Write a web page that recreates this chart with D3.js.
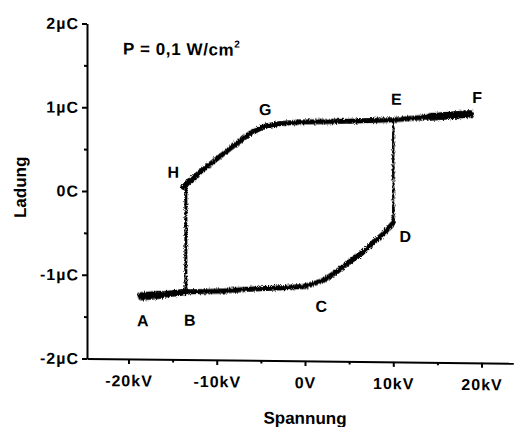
<!DOCTYPE html>
<html>
<head>
<meta charset="utf-8">
<script src="https://cdn.jsdelivr.net/npm/d3@7"></script>
<style>
  body { margin: 0; background: #fff; }
  svg { display: block; }
  text { font-family: "Liberation Sans", Arial, sans-serif; font-weight: bold; fill: #000; }
</style>
</head>
<body>
<svg id="chart" width="515" height="427"></svg>
<script>
// axis extents (kV, µC)
const voltageRange = [-24.7, 23.6];
const chargeRange = [-2, 2];

const voltageTicks = [-20, -10, 0, 10, 20];
const voltageTickLabels = ["-20kV", "-10kV", "0V", "10kV", "20kV"];
const voltageMinorTicks = [-15, -5, 5, 15];
const chargeTicks = [2, 1, 0, -1, -2];
const chargeTickLabels = ["2µC", "1µC", "0C", "-1µC", "-2µC"];
const chargeMinorTicks = [1.5, 0.5, -0.5, -1.5];

// lower branch, A -> D (kV, µC)
const lowerV = [-18.5, -16.4, -13.4, -9.6, -6.2, -2.8, 0, 2.0, 3.6, 5.1, 6.5, 7.7, 9.0, 10.0];
const lowerQ = [-1.25, -1.23, -1.19, -1.18, -1.15, -1.13, -1.11, -1.04, -0.93, -0.81, -0.70, -0.58, -0.46, -0.34];

// upper branch, F -> H
const upperV = [18.7, 14.2, 10.0, 5.1, -0.6, -2.8, -4.5, -6.2, -8.8, -11.9, -13.8];
const upperQ = [0.97, 0.93, 0.89, 0.87, 0.85, 0.83, 0.80, 0.71, 0.50, 0.24, 0.06];

// switching voltages of the two vertical jumps
const jumpUpV = 10.0;
const jumpDownV = -13.5;

const pointNames = ["A", "B", "C", "D", "E", "F", "G", "H"];
const pointV = [-18.5, -13.4, 0.6, 10.0, 10.0, 18.7, -4.5, -13.8];
const pointQ = [-1.25, -1.19, -1.10, -0.34, 0.89, 0.97, 0.80, 0.06];

// label offsets in px from the marked point
const labelOffset = {
  A: [1, 30], B: [3, 34], C: [11, 26], D: [12, 19],
  E: [3, -15], F: [7, -11], G: [0, -11], H: [-10, -9]
};

const svg = d3.select('#chart');

// the scan is slightly sheared, keep that look
const g = svg.append('g')
  .attr('transform', 'translate(87,0) skewY(0.63) translate(-87,0)');

const defs = svg.append('defs');
const rough = defs.append('filter').attr('id', 'rough')
  .attr('filterUnits', 'userSpaceOnUse')
  .attr('x', 0).attr('y', 0).attr('width', 515).attr('height', 427);
rough.append('feTurbulence').attr('type', 'fractalNoise')
  .attr('baseFrequency', 1.1).attr('numOctaves', 2).attr('seed', 3).attr('result', 'noise');
rough.append('feDisplacementMap').attr('in', 'SourceGraphic').attr('in2', 'noise')
  .attr('scale', 4).attr('xChannelSelector', 'R').attr('yChannelSelector', 'G');

const x = d3.scaleLinear().domain(voltageRange).range([87, 513.3]);
const y = d3.scaleLinear().domain(chargeRange).range([358.5, 23.5]);

// axes
g.append('g').attr('transform', `translate(0,${y(chargeRange[0])})`)
  .call(d3.axisBottom(x).tickValues(voltageTicks)
    .tickFormat((d, i) => voltageTickLabels[i])
    .tickSize(5).tickSizeOuter(0).tickPadding(11));
g.append('g').attr('transform', `translate(0,${y(chargeRange[0])})`)
  .call(d3.axisBottom(x).tickValues(voltageMinorTicks).tickFormat('').tickSize(3).tickSizeOuter(0))
  .select('.domain').remove();

g.append('g').attr('transform', `translate(${x(voltageRange[0])},0)`)
  .call(d3.axisLeft(y).tickValues(chargeTicks)
    .tickFormat((d, i) => chargeTickLabels[i])
    .tickSize(5).tickSizeOuter(0).tickPadding(3));
g.append('g').attr('transform', `translate(${x(voltageRange[0])},0)`)
  .call(d3.axisLeft(y).tickValues(chargeMinorTicks).tickFormat('').tickSize(3).tickSizeOuter(0))
  .select('.domain').remove();

g.selectAll('.domain, .tick line').attr('stroke', '#000').attr('stroke-width', 2);
g.selectAll('.tick text')
  .attr('font-family', '"Liberation Sans", Arial, sans-serif')
  .attr('font-size', 16).attr('font-weight', 'bold')
  .attr('letter-spacing', 1).attr('fill', '#000');

// axis titles
g.append('text').attr('x', 305).attr('y', 421.5)
  .attr('text-anchor', 'middle').attr('font-size', 17).text('Spannung');
g.append('text').attr('transform', 'translate(26,188) rotate(-90)')
  .attr('text-anchor', 'middle').attr('font-size', 17).text('Ladung');

// parameter note
const note = g.append('text').attr('x', 123).attr('y', 54)
  .attr('font-size', 17).attr('letter-spacing', 0.6);
note.append('tspan').text('P = 0,1 W/cm');
note.append('tspan').attr('font-size', 10).attr('dy', -8).text('2');

// loop: branches drawn segment by segment, thicker (noisier) at high field
const lower = lowerV.map((v, i) => [v, lowerQ[i]]);
const upper = upperV.map((v, i) => [v, upperQ[i]]);
const jumpUp = [[jumpUpV, lowerQ[lowerQ.length - 1]], [jumpUpV, upperQ[2]]];
const jumpDown = [[jumpDownV, upperQ[upperQ.length - 1]], [jumpDownV, lowerQ[2]]];

const widthAt = v => 5 + Math.max(0, Math.abs(v) - 12.5) * 0.65;

const curve = g.append('g').attr('filter', 'url(#rough)');

curve.selectAll('line.jump')
  .data([jumpUp, jumpDown])
  .enter().append('line')
  .attr('class', 'jump')
  .attr('x1', d => x(d[0][0])).attr('y1', d => y(d[0][1]))
  .attr('x2', d => x(d[1][0])).attr('y2', d => y(d[1][1]))
  .attr('stroke', '#000').attr('stroke-width', (d, i) => i === 0 ? 2.4 : 3)
  .attr('stroke-linecap', 'round');

curve.selectAll('line.branch')
  .data(d3.pairs(lower).concat(d3.pairs(upper)))
  .enter().append('line')
  .attr('class', 'branch')
  .attr('x1', d => x(d[0][0])).attr('y1', d => y(d[0][1]))
  .attr('x2', d => x(d[1][0])).attr('y2', d => y(d[1][1]))
  .attr('stroke', '#000')
  .attr('stroke-width', d => widthAt((d[0][0] + d[1][0]) / 2))
  .attr('stroke-linecap', 'round');

// point letters
g.selectAll('text.pt')
  .data(pointNames)
  .enter().append('text')
  .attr('class', 'pt')
  .attr('x', (d, i) => x(pointV[i]) + labelOffset[d][0])
  .attr('y', (d, i) => y(pointQ[i]) + labelOffset[d][1])
  .attr('text-anchor', 'middle')
  .attr('font-size', 16).attr('font-weight', 'normal')
  .text(d => d);
</script>
</body>
</html>
